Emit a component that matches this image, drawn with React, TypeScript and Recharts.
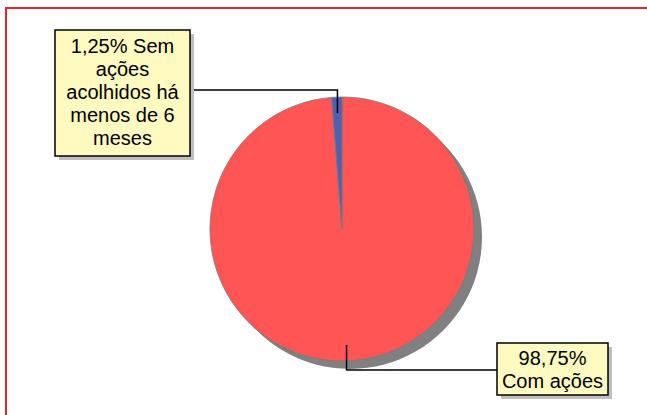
import { PieChart, Pie, Cell } from "recharts";

const categorias = ["Com ações", "Sem ações acolhidos há menos de 6 meses"];
const valores = [98.75, 1.25];
const rotulos = [
  ["98,75%", "Com ações"],
  ["1,25% Sem", "ações", "acolhidos há", "menos de 6", "meses"],
];
const cores = ["#FF5555", "#5060B0"];
const sombra = [1];

const dados = categorias.map((nome, i) => ({ nome, valor: valores[i] }));
const dadosSombra = sombra.map((valor) => ({ valor }));

const RAD = Math.PI / 180;
const FONTE = "'Liberation Sans', Arial, sans-serif";

function Caixa({ x, y, w, h, linhas, top }: any) {
  return (
    <g>
      <rect x={x + 4} y={y + 4} width={w} height={h} fill="#BFBFBF" />
      <rect x={x} y={y} width={w} height={h} fill="#FFFAC0" stroke="#000" strokeWidth={1.5} />
      {linhas.map((t: string, i: number) => (
        <text
          key={i}
          x={x + w / 2}
          y={y + top + i * 23}
          textAnchor="middle"
          fontFamily={FONTE}
          fontSize={20}
          fill="#000"
        >
          {t}
        </text>
      ))}
    </g>
  );
}

function Rotulo(props: any) {
  const { cx, cy, midAngle, outerRadius, index } = props;
  const ax = cx + (outerRadius - 16) * Math.cos(-midAngle * RAD);
  const ay = cy + (outerRadius - 16) * Math.sin(-midAngle * RAD);
  const linhas = rotulos[index];
  if (index === 1) {
    const bx = cx - 287;
    const by = cy - 199;
    const w = 135;
    const ly = cy - outerRadius - 7;
    return (
      <g>
        <polyline
          points={`${ax},${ay} ${ax},${ly} ${bx + w},${ly}`}
          fill="none"
          stroke="#000"
          strokeWidth={1.5}
        />
        <Caixa x={bx} y={by} w={w} h={126} linhas={linhas} top={23} />
      </g>
    );
  }
  const bx = cx + 155;
  const by = cy + 114;
  const ly = cy + 141;
  return (
    <g>
      <polyline
        points={`${ax},${ay} ${ax},${ly} ${bx},${ly}`}
        fill="none"
        stroke="#000"
        strokeWidth={1.5}
      />
      <Caixa x={bx} y={by} w={111} h={52} linhas={linhas} top={22} />
    </g>
  );
}

export default function App() {
  return (
    <div
      style={{
        position: "absolute",
        left: 0,
        top: 0,
        width: 647,
        height: 415,
        overflow: "hidden",
        background: "#fff",
      }}
    >
      <div
        style={{
          position: "absolute",
          left: 5,
          top: 7,
          width: 700,
          height: 500,
          border: "2px solid #E0262E",
        }}
      />
      <div style={{ position: "absolute", left: 0, top: 0 }}>
        <PieChart width={647} height={415} margin={{ top: 0, right: 0, bottom: 0, left: 0 }}>
          <Pie
            data={dadosSombra}
            dataKey="valor"
            cx={350}
            cy={237}
            outerRadius={132}
            fill="#808080"
            stroke="none"
            isAnimationActive={false}
          />
          <Pie
            data={dados}
            dataKey="valor"
            nameKey="nome"
            cx={342}
            cy={229}
            outerRadius={132}
            startAngle={90}
            endAngle={-270}
            stroke="#7A7A7A"
            strokeWidth={0.8}
            label={Rotulo}
            labelLine={false}
            isAnimationActive={false}
          >
            {dados.map((d, i) => (
              <Cell key={d.nome} fill={cores[i]} />
            ))}
          </Pie>
        </PieChart>
      </div>
    </div>
  );
}
